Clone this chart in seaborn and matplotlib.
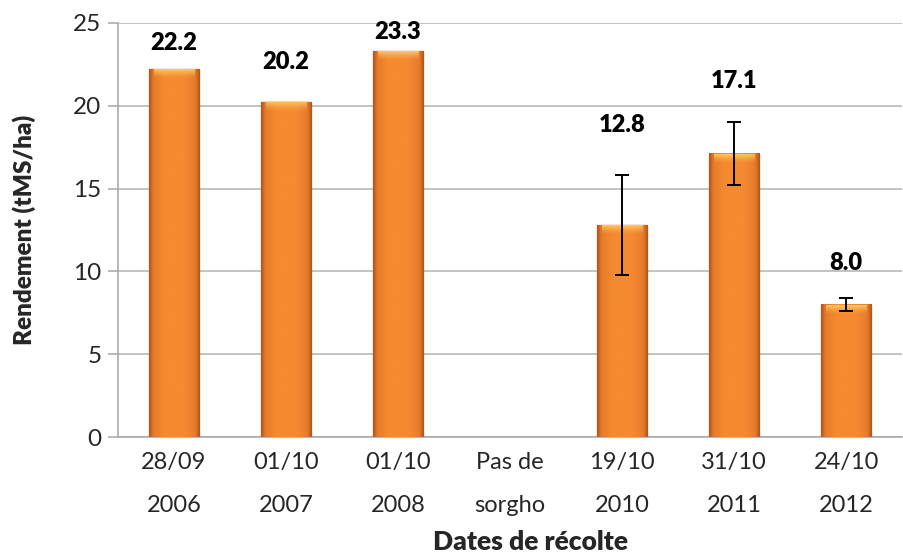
import numpy as np
import pandas as pd
import matplotlib
matplotlib.use('Agg')
import matplotlib.pyplot as plt
from matplotlib.colors import LinearSegmentedColormap, to_rgb
import seaborn as sns

# Rendement du sorgho par date de récolte
dates = ['28/09\n2006', '01/10\n2007', '01/10\n2008', 'Pas de\nsorgho',
         '19/10\n2010', '31/10\n2011', '24/10\n2012']
rendement = [22.2, 20.2, 23.3, np.nan, 12.8, 17.1, 8.0]
erreur = [np.nan, np.nan, np.nan, np.nan, 3.0, 1.9, 0.4]

df = pd.DataFrame({'date': dates, 'rendement': rendement, 'erreur': erreur})

sns.set_style('white')
plt.rcParams['font.family'] = ['Lato', 'DejaVu Sans']

fig = plt.figure(figsize=(9.04, 5.55), dpi=100)
ax = fig.add_axes([0.1305, 0.2126, 0.8675, 0.746])

grey = '#A6A6A6'

sns.barplot(data=df, x='date', y='rendement', order=dates, color='#F58A2F',
            width=0.45, edgecolor='#8A4414', linewidth=0.9, ax=ax, zorder=3)

ax.set_xlim(-0.5, len(dates) - 0.5)
ax.set_ylim(0, 25)

# gradient fill in each bar (dark edges, bright centre) + light bevel on top
cmap = LinearSegmentedColormap.from_list(
    'orange', [(0, '#B0561C'), (0.08, '#E67A2B'), (0.3, '#F68A30'),
               (0.7, '#F68A30'), (0.92, '#E67A2B'), (1, '#B0561C')])
grad = np.linspace(0, 1, 80).reshape(1, -1)
bevel = np.zeros((20, 1, 4))
bevel[..., :3] = to_rgb('#FFD36A')
bevel[:, 0, 3] = np.linspace(0.9, 0.0, 20) ** 1.5
px_per_unit = ax.transData.transform((0, 1))[1] - ax.transData.transform((0, 0))[1]
for patch in ax.patches:
    h = patch.get_height()
    if not np.isfinite(h) or h == 0:
        continue
    x0, y0, w = patch.get_x(), patch.get_y(), patch.get_width()
    ax.imshow(grad, extent=[x0, x0 + w, y0, y0 + h], aspect='auto', cmap=cmap,
              clip_path=patch, zorder=3.1, interpolation='bicubic')
    bh = 10 / px_per_unit
    ax.imshow(bevel, extent=[x0 + 0.1 * w, x0 + 0.9 * w, y0 + h - bh, y0 + h],
              aspect='auto', clip_path=patch, zorder=3.2, interpolation='bilinear')

# error bars
pos = np.arange(len(dates))
ax.errorbar(pos, df['rendement'], yerr=df['erreur'], fmt='none', ecolor='black',
            elinewidth=1.4, capsize=4.8, capthick=1.4, zorder=4)

# value labels
label_pad = [19, 29, 14, 0, 36, 30, 25]
for i, (v, e) in enumerate(zip(rendement, erreur)):
    if np.isnan(v):
        continue
    top = v + (0 if np.isnan(e) else e)
    ax.annotate(f'{v:.1f}', (i, top), xytext=(0, label_pad[i]),
                textcoords='offset points', ha='center', va='center',
                fontsize=17, fontweight='heavy', color='black')

ax.set_xlim(-0.5, len(dates) - 0.5)
ax.set_ylim(0, 25)
ax.set_yticks([0, 5, 10, 15, 20, 25])
ax.yaxis.grid(True, color='#B3B3B3', linewidth=1.1, zorder=0)
ax.set_axisbelow(True)

for s in ['top', 'right']:
    ax.spines[s].set_visible(False)
for s in ['left', 'bottom']:
    ax.spines[s].set_color(grey)
    ax.spines[s].set_linewidth(1.1)

ax.set_xticks(pos)
ax.set_xticklabels(dates, linespacing=2.3)
ax.set_xticks(np.arange(-0.5, len(dates)), minor=True)
ax.tick_params(axis='x', which='major', length=0, pad=11, labelsize=17)
ax.tick_params(axis='x', which='minor', length=5, width=1.1, color=grey, direction='out')
ax.tick_params(axis='y', length=7, width=1.1, color=grey, direction='out',
               pad=5, labelsize=17.5, left=True)

ax.set_xlabel('Dates de récolte', fontsize=19, fontweight='heavy', labelpad=10)
ax.xaxis.label.set_x(0.526)
ax.set_ylabel('Rendement (tMS/ha)', fontsize=17.5, fontweight='heavy', labelpad=27)

fig.savefig('out.png', dpi=100)
